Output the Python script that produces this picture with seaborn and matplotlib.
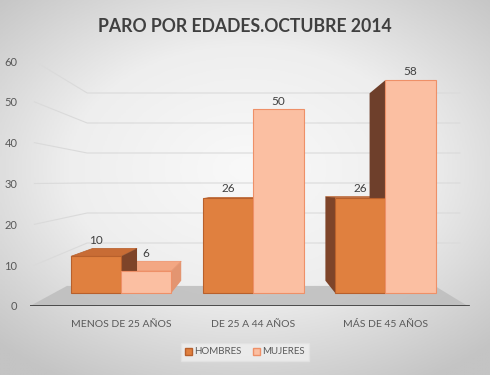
import matplotlib
matplotlib.use('Agg')
import matplotlib.pyplot as plt
from matplotlib.patches import Polygon, Patch
from matplotlib.colors import LinearSegmentedColormap
import numpy as np
import pandas as pd
import seaborn as sns

# Datos
edades = ['MENOS DE 25 AÑOS', 'DE 25 A 44 AÑOS', 'MÁS DE 45 AÑOS']
hombres = [10, 26, 26]
mujeres = [6, 50, 58]
sexos = ['HOMBRES', 'MUJERES']
ticks_y = [0, 10, 20, 30, 40, 50, 60]
titulo = 'PARO POR EDADES.OCTUBRE 2014'

df = pd.DataFrame({
    'edad': edades * 2,
    'sexo': [sexos[0]] * 3 + [sexos[1]] * 3,
    'valor': hombres + mujeres,
})

# Colores
col_h, edge_h, top_h, side_h = '#E0803F', '#B8602C', '#C86C35', '#7E4429'
col_m, edge_m, top_m = '#FBBFA2', '#EE9068', '#F3A783'
side_m_der, side_m_izq = '#E39571', '#6E3F2B'
gris_txt = '#595959'

plt.rcParams['font.family'] = ['Lato', 'DejaVu Sans']

fig = plt.figure(figsize=(4.9, 3.75), dpi=100)

# Fondo con degradado radial
bg = fig.add_axes([0, 0, 1, 1], zorder=-10)
yy, xx = np.mgrid[-1:1:300j, -1:1:300j]
r = np.sqrt((xx * 1.0) ** 2 + ((yy + 0.1) * 1.1) ** 2)
cmap_bg = LinearSegmentedColormap.from_list('bg', ['#F9F9F9', '#EEEEEE', '#C4C4C4'])
bg.imshow(r, cmap=cmap_bg, extent=(0, 1, 0, 1), aspect='auto', vmin=0, vmax=1.45)
bg.set_xlim(0, 1)
bg.set_ylim(0, 1)
bg.axis('off')

pos = [30 / 490, (375 - 306) / 375, 440 / 490, 245 / 375]

# Pared del fondo y suelo
wall = fig.add_axes(pos, zorder=0)
wall.set_facecolor('none')
wall.set_xlim(0, 1)
wall.set_ylim(0, 60)
wall.set_xticks([])
wall.set_yticks(ticks_y)
wall.tick_params(axis='y', length=0, pad=9, labelsize=8, labelcolor=gris_txt)
for s in wall.spines.values():
    s.set_visible(False)

for w in ticks_y[1:]:
    fb = (33 + 3 * w) / 245
    wall.plot([0.01, 0.13, 0.977], [w / 60, fb, fb], transform=wall.transAxes,
              color='#DADADA', lw=0.8, zorder=0)

suelo = Polygon([(0, 0), (0.995, 0), (0.92, 0.082), (0.084, 0.082)],
                closed=True, transform=wall.transAxes, facecolor='#BDBDBD',
                edgecolor='none', alpha=0.85, zorder=1)
wall.add_patch(suelo)
wall.plot([0, 0.995], [0, 0], transform=wall.transAxes, color='#404040', lw=2, zorder=2)

# Barras
ax = fig.add_axes(pos, zorder=2)
ax.set_facecolor('none')
sns.barplot(data=df, x='edad', y='valor', hue='sexo', order=edades, hue_order=sexos,
            palette=[col_h, col_m], width=0.76, gap=0, saturation=1, legend=False,
            ax=ax, zorder=3)
ax.set_xlim(-0.69, 2.64)
ax.set_ylim(-3.54, 63.2)
ax.set_xlabel('')
ax.set_ylabel('')
ax.set_yticks([])
ax.tick_params(axis='x', length=0, pad=10, labelsize=7.5, labelcolor=gris_txt)
for s in ax.spines.values():
    s.set_visible(False)

# Efecto 3D con perspectiva hacia un punto de fuga
K, VX, VY = 0.12, 1.0, 28.0


def fondo(px, py):
    return (px + K * (VX - px), py + K * (VY - py))


for i, cont in enumerate(ax.containers):
    es_h = i == 0
    for patch, val in zip(cont.patches, cont.datavalues):
        patch.set_edgecolor(edge_h if es_h else edge_m)
        patch.set_linewidth(0.8)
        x0, y0 = patch.get_x(), patch.get_y()
        x1, y1 = x0 + patch.get_width(), y0 + patch.get_height()
        if y1 < VY:
            ax.add_patch(Polygon([(x0, y1), (x1, y1), fondo(x1, y1), fondo(x0, y1)],
                                 facecolor=top_h if es_h else top_m,
                                 edgecolor=edge_h if es_h else edge_m, lw=0.5, zorder=1))
        if x1 < VX - 1e-6:
            ax.add_patch(Polygon([(x1, y0), (x1, y1), fondo(x1, y1), fondo(x1, y0)],
                                 facecolor=side_h if es_h else side_m_der,
                                 edgecolor='none', zorder=2))
        elif x0 > VX + 1e-6:
            ax.add_patch(Polygon([(x0, y0), (x0, y1), fondo(x0, y1), fondo(x0, y0)],
                                 facecolor=side_h if es_h else side_m_izq,
                                 edgecolor='none', zorder=2))
        xc = x0 + patch.get_width() / 2
        ytop = max(y1, fondo(xc, y1)[1])
        ax.annotate(f'{val:g}', (xc, ytop), xytext=(0, 2), textcoords='offset points',
                    ha='center', va='bottom', fontsize=8.5, color='#404040')

# Titulo
fig.text(0.5, 1 - 26 / 375, titulo, ha='center', va='center', fontsize=12.7,
         fontweight='bold', color='#404040')

# Leyenda
handles = [Patch(facecolor=col_h, edgecolor=edge_h, label=sexos[0]),
           Patch(facecolor=col_m, edgecolor=edge_m, label=sexos[1])]
fig.legend(handles=handles, loc='center', bbox_to_anchor=(245 / 490, 1 - 352 / 375),
           ncol=2, frameon=True, fontsize=7, handlelength=0.7, handleheight=0.7,
           handletextpad=0.2, columnspacing=1.2, facecolor='#F0F0F0',
           edgecolor='#E2E2E2', labelcolor=gris_txt, fancybox=False, borderpad=0.5)

fig.savefig('out.png', dpi=100)
